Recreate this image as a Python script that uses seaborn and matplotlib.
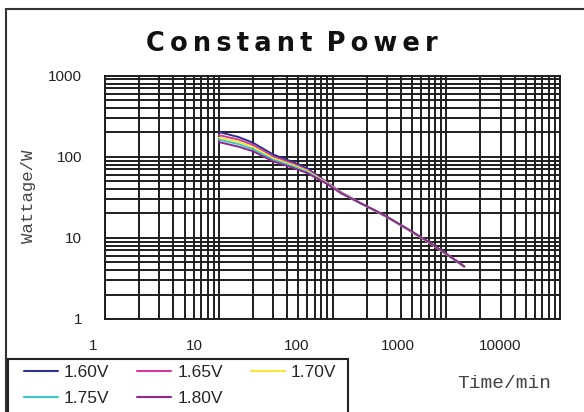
import numpy as np
import pandas as pd
import seaborn as sns
import matplotlib
matplotlib.use("Agg")
import matplotlib.pyplot as plt
from matplotlib.patches import Rectangle
from matplotlib.ticker import LogLocator, NullFormatter

# ---- data ----
times = [10, 15, 20, 30, 45, 60, 90, 120, 180, 240, 300, 480, 600, 720, 1200, 1440]
w160 = [202, 175, 149, 107, 86, 72, 48, 36.2, 26.5, 21.5, 18.2, 12.2, 10.1, 8.6, 5.3, 4.4]
w165 = [185, 163, 140, 101, 82, 69, 48, 36.0, 26.4, 21.4, 18.1, 12.2, 10.1, 8.6, 5.3, 4.4]
w170 = [172, 153, 132, 96, 79, 67, 47, 35.8, 26.3, 21.4, 18.1, 12.2, 10.1, 8.6, 5.3, 4.4]
w175 = [163, 143, 124, 92, 76, 65, 46.5, 35.5, 26.3, 21.5, 18.2, 12.3, 10.2, 8.7, 5.3, 4.45]
w180 = [152, 133, 117, 88, 73, 63, 46, 35.3, 26.4, 21.6, 18.3, 12.4, 10.2, 8.7, 5.35, 4.45]
voltages = ["1.60V", "1.65V", "1.70V", "1.75V", "1.80V"]
colors = ["#2e3192", "#d4399a", "#f7e836", "#3cc8c4", "#93278f"]
x_ticks = [1, 10, 100, 1000, 10000]
y_ticks = [1, 10, 100, 1000]

df = pd.concat([
    pd.DataFrame({"Time": times, "Wattage": w, "Voltage": v})
    for v, w in zip(voltages, [w160, w165, w170, w175, w180])
])

sns.set_style("white")
plt.rcParams["font.family"] = ["Liberation Sans", "DejaVu Sans"]

fig = plt.figure(figsize=(5.84, 4.12), dpi=100)
W, H = 584, 412
ax = fig.add_axes([105 / W, 1 - 319 / H, 455 / W, (319 - 75.7) / H])

sns.lineplot(data=df, x="Time", y="Wattage", hue="Voltage", palette=colors,
             linewidth=1.4, ax=ax, legend=False)
ax.set_xscale("log")
ax.set_yscale("log")
ax.set_xlim(1, 10000)
ax.set_ylim(1, 1000)

grid_kw = dict(color="#1e1e1e", linewidth=1.4)
ax.xaxis.set_minor_locator(LogLocator(base=10, subs=np.arange(2, 10)))
ax.yaxis.set_minor_locator(LogLocator(base=10, subs=np.arange(2, 10)))
ax.grid(True, which="both", **grid_kw)
ax.set_axisbelow(True)
for s in ax.spines.values():
    s.set_color("#1e1e1e")
    s.set_linewidth(1.4)

ax.set_yticks(y_ticks, [str(t) for t in y_ticks])
ax.yaxis.set_minor_formatter(NullFormatter())
ax.tick_params(axis="y", which="both", length=0, pad=16.5, labelsize=11, labelcolor="#222222")
ax.set_xticks(x_ticks, [""] * len(x_ticks))
ax.xaxis.set_minor_formatter(NullFormatter())
ax.tick_params(axis="x", which="both", length=0)
ax.set_xlabel("")
ax.set_ylabel("")

# tick labels of the x axis sit slightly off the grid in the original
lab = fig.add_axes([93 / W, 1 - 319 / H, (500 - 93) / W, 0.01])
lab.set_xscale("log")
lab.set_xlim(1, 10000)
lab.set_xticks(x_ticks, [str(t) for t in x_ticks])
lab.xaxis.set_minor_formatter(NullFormatter())
lab.tick_params(axis="x", which="both", length=0, pad=14.5, labelsize=11, labelcolor="#222222")
lab.set_yticks([])
lab.patch.set_visible(False)
for s in lab.spines.values():
    s.set_visible(False)

title = "\u2009".join("Constant") + " \u2009" + "\u2009".join("Power")
fig.text(292 / W, 1 - 44 / H, title, ha="center", va="center",
         fontsize=18.5, fontweight="heavy", family="DejaVu Sans", color="#111111")
fig.text(28 / W, 1 - 196 / H, "Wattage/W", rotation=90, ha="center", va="center",
         fontsize=12.5, family="Liberation Mono", color="#444444")
fig.text(504 / W, 1 - 383 / H, "Time/min", ha="center", va="center",
         fontsize=14, family="Liberation Mono", color="#444444")

# frame around the whole picture
fig.patches.append(Rectangle((6 / W, -0.1), 1.2, 1 - 9 / H + 0.1, transform=fig.transFigure,
                             fill=False, edgecolor="#333333", linewidth=1.5))
# legend box, cut by the bottom edge
fig.patches.append(Rectangle((8 / W, -0.1), 340 / W, 1 - 359 / H + 0.1, transform=fig.transFigure,
                             fill=False, edgecolor="#222222", linewidth=1.5))

handles = [plt.Line2D([], [], color=c, linewidth=1.5) for c in colors]
order = [0, 3, 1, 4, 2]
leg = fig.legend([handles[i] for i in order], [voltages[i] for i in order],
                 loc="upper left", bbox_to_anchor=(24 / W, 1 - 365 / H),
                 ncol=3, fontsize=12.5, frameon=False, handlelength=1.95,
                 handletextpad=0.35, columnspacing=1.6, labelspacing=0.6, borderpad=0,
                 borderaxespad=0)

fig.savefig("out.png", dpi=100)
